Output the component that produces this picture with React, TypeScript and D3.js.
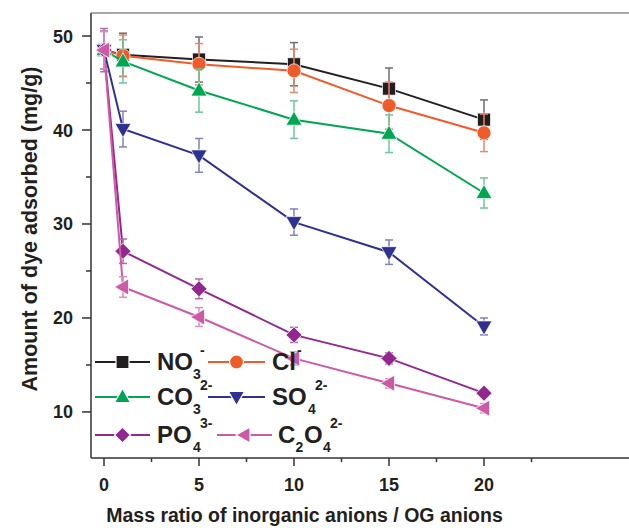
import React from "react";
import * as d3 from "d3";

const ratios = [0, 1, 5, 10, 15, 20];

const no3 = [48.5, 48.0, 47.5, 47.0, 44.4, 41.1];
const no3Err = [2.0, 2.3, 2.4, 2.3, 2.2, 2.1];
const cl = [48.5, 47.9, 47.0, 46.3, 42.6, 39.7];
const clErr = [2.0, 2.2, 2.2, 2.3, 2.5, 2.0];
const co3 = [48.5, 47.3, 44.2, 41.1, 39.6, 33.3];
const co3Err = [2.0, 2.3, 2.3, 2.0, 2.0, 1.6];
const so4 = [48.5, 40.1, 37.3, 30.2, 27.0, 19.1];
const so4Err = [2.0, 1.9, 1.8, 1.4, 1.3, 0.9];
const po4 = [48.5, 27.1, 23.1, 18.2, 15.7, 12.0];
const po4Err = [2.3, 1.3, 1.05, 0.8, 0.6, 0.4];
const c2o4 = [48.5, 23.3, 20.1, 15.7, 13.05, 10.4];
const c2o4Err = [2.0, 1.1, 1.0, 0.7, 0.5, 0.5];

const xTicks = [0, 5, 10, 15, 20];
const yTicks = [10, 20, 30, 40, 50];

type Series = {
  name: string;
  sub: string;
  sup: string;
  pre?: string;
  preSub?: string;
  values: number[];
  errors: number[];
  color: string;
  errColor: string;
  shape: string;
};

const series: Series[] = [
  { name: "NO", sub: "3", sup: "-", values: no3, errors: no3Err, color: "#231f20", errColor: "#6d6e70", shape: "square" },
  { name: "Cl", sub: "", sup: "-", values: cl, errors: clErr, color: "#f15a29", errColor: "#e8876a", shape: "circle" },
  { name: "CO", sub: "3", sup: "2-", values: co3, errors: co3Err, color: "#00a651", errColor: "#6cc799", shape: "up" },
  { name: "SO", sub: "4", sup: "2-", values: so4, errors: so4Err, color: "#2e3192", errColor: "#7f82bd", shape: "down" },
  { name: "PO", sub: "4", sup: "3-", values: po4, errors: po4Err, color: "#92278f", errColor: "#b466b1", shape: "diamond" },
  { name: "O", pre: "C", preSub: "2", sub: "4", sup: "2-", values: c2o4, errors: c2o4Err, color: "#cc5aa5", errColor: "#dc8ec0", shape: "left" },
];

const marker = (shape: string, cx: number, cy: number) => {
  switch (shape) {
    case "square":
      return `M${cx - 6.5},${cy - 6.5}h13v13h-13Z`;
    case "circle":
      return `M${cx - 7},${cy}a7,7 0 1,0 14,0a7,7 0 1,0 -14,0Z`;
    case "up":
      return `M${cx},${cy - 8.5}L${cx + 8},${cy + 5.5}L${cx - 8},${cy + 5.5}Z`;
    case "down":
      return `M${cx},${cy + 8.5}L${cx + 8},${cy - 5.5}L${cx - 8},${cy - 5.5}Z`;
    case "diamond":
      return `M${cx},${cy - 8}L${cx + 8},${cy}L${cx},${cy + 8}L${cx - 8},${cy}Z`;
    default:
      return `M${cx - 8.5},${cy}L${cx + 5.5},${cy - 8}L${cx + 5.5},${cy + 8}Z`;
  }
};

const W = 629;
const H = 528;
const left = 91;
const top = 13;
const bottom = 458;

const x = d3.scaleLinear().domain([(left - 104) / 19, (W - 104) / 19]).range([left, W]);
const y = d3.scaleLinear().domain([5.1, 52.45]).range([bottom, top]);

const font = "Liberation Sans, Arial, sans-serif";

const App = () => {
  const line = d3
    .line<number>()
    .x((_, i) => x(ratios[i]))
    .y((d) => y(d));

  const xMinor = d3.range(2.5, 27, 5);
  const yMinor = d3.range(15, 52, 10);

  const legendRows = [
    [0, 1],
    [2, 3],
    [4, 5],
  ];
  const rowY = [362, 397, 435];
  const colX = [[95, 150, 157], [208, 265, 272]];
  const colX3 = [[95, 150, 157], [217, 272, 278]];

  return (
    <svg width={W} height={H} style={{ position: "absolute", left: 0, top: 0 }} fontFamily={font}>
      <rect width={W} height={H} fill="white" />
      {/* frame */}
      <line x1={left} x2={W} y1={top} y2={top} stroke="#8a8a8a" strokeWidth={1.5} />
      <line x1={left} x2={left} y1={top} y2={bottom} stroke="#333" strokeWidth={1.5} />
      <line x1={left} x2={W} y1={bottom} y2={bottom} stroke="#333" strokeWidth={1.5} />

      {xTicks.map((t) => (
        <g key={t}>
          <line x1={x(t)} x2={x(t)} y1={bottom} y2={bottom + 8} stroke="#333" strokeWidth={1.5} />
          <text x={x(t)} y={491} textAnchor="middle" fontSize={18} fontWeight="bold" fill="#231f20">
            {t}
          </text>
        </g>
      ))}
      {xMinor.map((t) => (
        <line key={t} x1={x(t)} x2={x(t)} y1={bottom} y2={bottom + 4} stroke="#333" strokeWidth={1.5} />
      ))}
      {yTicks.map((t) => (
        <g key={t}>
          <line x1={left - 9} x2={left} y1={y(t)} y2={y(t)} stroke="#333" strokeWidth={1.5} />
          <text x={73} y={y(t) + 6.5} textAnchor="end" fontSize={18} fontWeight="bold" fill="#231f20">
            {t}
          </text>
        </g>
      ))}
      {yMinor.map((t) => (
        <line key={t} x1={left - 5} x2={left} y1={y(t)} y2={y(t)} stroke="#333" strokeWidth={1.5} />
      ))}

      <text x={304.5} y={522} textAnchor="middle" fontSize={19.5} fontWeight="bold" fill="#231f20">
        Mass ratio of inorganic anions / OG anions
      </text>
      <text
        transform={`translate(37,229) rotate(-90)`}
        textAnchor="middle"
        fontSize={21.5}
        fontWeight="bold"
        fill="#231f20"
      >
        Amount of dye adsorbed (mg/g)
      </text>

      {/* series */}
      {series.map((s) => (
        <g key={s.name + s.sup}>
          <path d={line(s.values) || ""} fill="none" stroke={s.color} strokeWidth={2} />
          {s.values.map((v, i) => {
            const cx = x(ratios[i]);
            const hi = y(v + s.errors[i]);
            const lo = y(v - s.errors[i]);
            return (
              <g key={i} stroke={s.errColor} strokeWidth={1.5}>
                <line x1={cx} x2={cx} y1={hi} y2={lo} />
                <line x1={cx - 4} x2={cx + 4} y1={hi} y2={hi} />
                <line x1={cx - 4} x2={cx + 4} y1={lo} y2={lo} />
              </g>
            );
          })}
          {s.values.map((v, i) => (
            <path
              key={i}
              d={marker(s.shape, x(ratios[i]), y(v))}
              fill={s.color}
              stroke="white"
              strokeOpacity={0.7}
              strokeWidth={1}
            />
          ))}
        </g>
      ))}

      {/* legend */}
      {legendRows.map((row, r) =>
        row.map((idx, c) => {
          const s = series[idx];
          const [x1, x2, tx] = (r === 2 ? colX3 : colX)[c];
          const cy = rowY[r];
          const mx = (x1 + x2) / 2;
          const base = cy + 8;
          let textX = tx;
          return (
            <g key={idx}>
              <line x1={x1} x2={x2} y1={cy} y2={cy} stroke={s.color} strokeWidth={2} />
              <path d={marker(s.shape, mx, cy)} fill={s.color} stroke="white" strokeWidth={1.2} />
              {s.pre ? (
                <>
                  <text x={textX} y={base} fontSize={24} fontWeight="bold" fill="#231f20">
                    {s.pre}
                  </text>
                  <text x={textX + 17.5} y={base + 9} fontSize={14} fontWeight="bold" fill="#231f20">
                    {s.preSub}
                  </text>
                </>
              ) : null}
              {(() => {
                if (s.pre) textX += 26;
                const nameW = s.name === "Cl" ? 26 : s.name === "O" ? 19 : 36;
                return (
                  <>
                    <text x={textX} y={base} fontSize={24} fontWeight="bold" fill="#231f20">
                      {s.name}
                    </text>
                    {s.sub ? (
                      <text x={textX + nameW} y={base + 9} fontSize={14} fontWeight="bold" fill="#231f20">
                        {s.sub}
                      </text>
                    ) : null}
                    <text
                      x={textX + nameW + (s.sub ? 7 : -1)}
                      y={base - 15}
                      fontSize={14}
                      fontWeight="bold"
                      fill="#231f20"
                    >
                      {s.sup}
                    </text>
                  </>
                );
              })()}
            </g>
          );
        })
      )}
    </svg>
  );
};

export default App;
